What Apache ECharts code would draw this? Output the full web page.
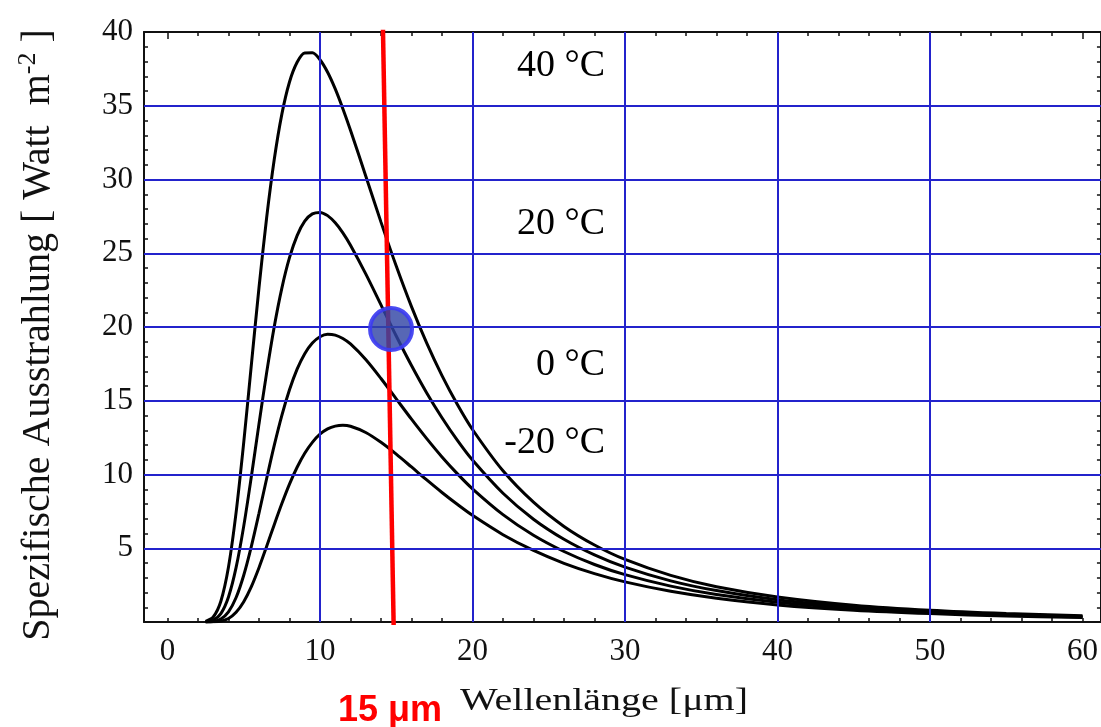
<!DOCTYPE html>
<html><head><meta charset="utf-8">
<script src="https://cdn.jsdelivr.net/npm/echarts@6/dist/echarts.min.js"></script>
<style>html,body{margin:0;padding:0;background:#fff}#c{width:1101px;height:727px}</style>
</head><body><div id="c"></div>
<script>
// wavelength samples [µm]
const wavelengths = [2.5,3,3.5,4,4.5,5,5.5,6,6.5,7,7.5,8,8.5,9,9.5,10,10.5,11,11.5,12,13,14,15,16,17,18,19,20,22,24,26,28,30,33,36,40,45,50,55,60];
// spectral exitance [W m^-2 per µm]
const curve40 = [0.04,0.34,1.41,3.73,7.43,12.18,17.44,22.66,27.39,31.35,34.43,36.61,37.95,38.58,38.59,38.12,37.27,36.14,34.80,33.34,30.24,27.11,24.13,21.38,18.90,16.70,14.76,13.05,10.25,8.12,6.48,5.22,4.24,3.16,2.39,1.70,1.14,0.79,0.57,0.42];
const curve20 = [0.01,0.12,0.57,1.70,3.70,6.50,9.86,13.43,16.89,20.02,22.64,24.70,26.20,27.18,27.67,27.77,27.55,27.06,26.38,25.54,23.60,21.50,19.39,17.39,15.53,13.85,12.33,10.98,8.73,6.97,5.61,4.55,3.72,2.79,2.13,1.51,1.03,0.72,0.52,0.38];
const curve0 = [0.00,0.04,0.21,0.69,1.66,3.17,5.13,7.37,9.71,11.97,14.01,15.74,17.14,18.19,18.91,19.34,19.51,19.45,19.22,18.85,17.80,16.51,15.13,13.75,12.43,11.19,10.06,9.03,7.28,5.88,4.78,3.90,3.21,2.43,1.86,1.34,0.91,0.64,0.46,0.34];
const curveM20 = [0.00,0.01,0.06,0.24,0.66,1.38,2.40,3.68,5.12,6.60,8.03,9.35,10.49,11.44,12.18,12.73,13.09,13.28,13.34,13.27,12.85,12.18,11.38,10.51,9.63,8.78,7.98,7.23,5.92,4.85,3.98,3.28,2.72,2.08,1.61,1.16,0.80,0.57,0.41,0.31];
const curveNames = ['40 °C','20 °C','0 °C','-20 °C'];
const labelAnchorX = [28.69,28.69,28.69,28.69];
const labelAnchorY = [37.69,26.98,17.42,12.14];
// red 15 µm marker line (top and bottom ends as drawn)
const markerX = [14.13,14.83];
const markerY = [40.15,-0.2];
// blue dot
const dotX = 14.66, dotY = 19.86;
// ticks / grid
const xLabels = [0,10,20,30,40,50,60];
const xMinorTicks = [0,2,4,6,8,10,12,14,16,18,20,22,24,26,28,30,32,34,36,38,40,42,44,46,48,50,52,54,56,58,60];
const yLabels = [5,10,15,20,25,30,35,40];
const gridX = [10,20,30,40,50];
const gridY = [5,10,15,20,25,30,35];

const XMIN = -1.54, XMAX = 61.21;
const BLUE = '#2323cc';
const INK = '#111';

const chart = echarts.init(document.getElementById('c'), null, {renderer:'canvas'});
const pairs = arr => wavelengths.map((x,i)=>[x,arr[i]]);
const curveSeries = [curve40,curve20,curve0,curveM20].map((arr,i)=>({
  type:'line', name:curveNames[i], data:pairs(arr), showSymbol:false, smooth:0.3,
  lineStyle:{color:'#000', width:3}, z:3, silent:true, animation:false
}));
const tickAxisX = (pos, vals, len, line) => ({
  type:'value', position:pos, min:XMIN, max:XMAX,
  axisLine:{show:line, onZero:false, lineStyle:{color:INK, width:2}},
  axisTick:{show:true, inside:true, length:len, customValues:vals, lineStyle:{color:INK, width:1.5}},
  axisLabel:{show:false}, splitLine:{show:false}
});
const baseX = tickAxisX('bottom', xMinorTicks, 4, true);
baseX.axisLabel = {show:true, customValues:xLabels, margin:14, fontFamily:'Liberation Serif', fontSize:31, color:INK};
const yAx = (pos, labels) => ({
  type:'value', position:pos, min:0, max:40, interval:5,
  axisLine:{show:true, onZero:false, lineStyle:{color:INK, width:2}},
  axisTick:{show:true, inside:true, length:7, lineStyle:{color:INK, width:1.5}},
  minorTick:{show:true, splitNumber:5, length:4, lineStyle:{color:INK, width:1.5}},
  axisLabel: labels ? {show:true, customValues:yLabels, margin:11, fontFamily:'Liberation Serif', fontSize:31, color:INK} : {show:false},
  splitLine:{show:false}
});

chart.setOption({
  animation:false,
  backgroundColor:'#fff',
  grid:{left:144, right:0, top:32, bottom:105, containLabel:false},
  xAxis:[
    baseX,
    tickAxisX('top', xMinorTicks, 4, true),
    tickAxisX('top', xLabels, 7, false)
  ],
  yAxis:[yAx('left', true), yAx('right', false)],
  graphic:[
    {type:'text', x:38.5, y:335, rotation:Math.PI/2, silent:true,
     style:{text:'{m|Spezifische Ausstrahlung [ Watt  m}{s|-2}{m| ]}', align:'center', verticalAlign:'middle', fill:INK,
       rich:{m:{fontFamily:'Liberation Serif', fontSize:40, fill:INK, lineHeight:46},
             s:{fontFamily:'Liberation Serif', fontSize:26, fill:INK, verticalAlign:'top', lineHeight:46}}}},
    {type:'text', x:460, y:702, scaleX:1.29, silent:true,
     style:{text:'Wellenlänge [μm]', fontFamily:'Liberation Serif', fontSize:31, fill:INK, align:'left', verticalAlign:'middle'}},
    {type:'text', x:338, y:711, silent:true,
     style:{text:'15 μm', fontFamily:'Liberation Sans', fontWeight:'bold', fontSize:36, fill:'#f00', align:'left', verticalAlign:'middle'}}
  ],
  series:[
    {type:'line', data:[], silent:true, z:1,
     markLine:{silent:true, symbol:'none', label:{show:false}, animation:false,
       lineStyle:{color:BLUE, width:2, type:'solid'},
       data: gridX.map(v=>({xAxis:v})).concat(gridY.map(v=>({yAxis:v})))}},
    ...curveSeries,
    {type:'line', data:markerX.map((x,i)=>[x,markerY[i]]), showSymbol:false, clip:false,
     lineStyle:{color:'#ff0000', width:4.5}, z:4, silent:true},
    {type:'scatter', data:[[dotX,dotY]], symbolSize:42, z:5, silent:true,
     itemStyle:{opacity:1, color:'rgba(50,70,165,0.82)', borderColor:'rgba(60,60,240,0.92)', borderWidth:4}},
    {type:'scatter', data:labelAnchorX.map((x,i)=>({value:[x,labelAnchorY[i]], name:curveNames[i]})),
     symbolSize:0, z:6, silent:true, itemStyle:{opacity:1},
     label:{show:true, position:[0,0], align:'right', verticalAlign:'middle', formatter:p=>p.name,
       fontFamily:'Liberation Serif', fontSize:38, color:'#000', opacity:1}}
  ]
});
</script></body></html>
